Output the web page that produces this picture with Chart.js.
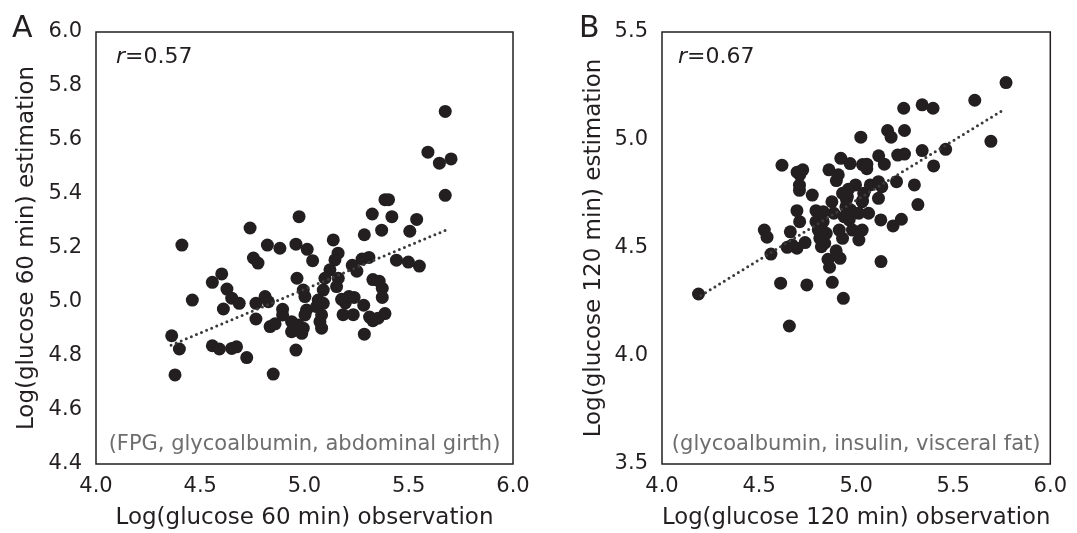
<!DOCTYPE html>
<html lang="en">
<head>
<meta charset="UTF-8">
<title>Log glucose estimation vs observation</title>
<script src="https://cdn.jsdelivr.net/npm/chart.js"></script>
<style>
  body { margin: 0; background: #fff; }
  #wrap { position: relative; width: 1077px; height: 533px; }
  #panelA { position: absolute; left: 0; top: 0; }
  #panelB { position: absolute; left: 540px; top: 0; }
</style>
</head>
<body>
<div id="wrap">
  <canvas id="panelA" width="540" height="533"></canvas>
  <canvas id="panelB" width="537" height="533"></canvas>
</div>
<script>
// Panel A - glucose 60 min (FPG, glycoalbumin, abdominal girth)
const obs60 = [5.675, 5.592, 5.647, 5.703, 5.675, 5.386, 5.403, 5.325, 5.419, 5.538, 5.505, 5.370, 5.287, 5.138,
  4.974, 4.739, 4.412, 4.822, 4.882, 4.959, 5.013, 5.039, 5.161, 5.146, 4.755, 4.777,
  5.309, 5.276, 5.441, 5.498, 5.551, 5.229, 5.251, 5.122, 5.098, 5.162, 5.154, 5.090,
  4.964, 4.603, 4.558, 4.628, 4.651, 4.687, 4.462, 4.611, 4.767, 4.811, 4.827, 4.767, 4.895, 4.895, 4.835, 4.859,
  4.994, 5.002, 5.010, 5.002, 4.938, 4.970, 4.994, 4.938, 4.987,
  5.066, 5.090, 5.058, 5.082, 5.074, 5.082,
  5.178, 5.196, 5.213, 5.238, 5.284, 5.185, 5.234,
  5.287, 5.312, 5.328, 5.353, 5.386, 5.328, 5.358, 5.373, 5.373,
  4.959, 4.850, 4.723, 4.674, 4.651, 4.558, 4.592, 4.400, 4.363, 4.379];
const est60 = [5.706, 5.555, 5.514, 5.530, 5.395, 5.379, 5.379, 5.326, 5.316, 5.306, 5.262, 5.266, 5.249, 5.230,
  5.316, 5.274, 5.211, 5.211, 5.199, 5.214, 5.195, 5.153, 5.181, 5.156, 5.163, 5.144,
  5.165, 5.159, 5.155, 5.148, 5.133, 5.136, 5.114, 5.119, 5.088, 5.088, 5.057, 5.044,
  5.088, 5.104, 5.073, 5.048, 5.014, 4.995, 5.007, 4.974, 4.995, 5.020, 5.001, 4.937, 4.973, 4.952, 4.909, 4.919,
  5.044, 5.020, 4.970, 4.952, 4.927, 4.915, 4.903, 4.890, 4.884,
  5.007, 4.995, 4.983, 4.952, 4.927, 4.903,
  5.010, 4.997, 5.020, 5.017, 4.988, 4.953, 4.953,
  4.881, 4.944, 4.931, 4.940, 4.957, 5.083, 5.077, 5.051, 5.017,
  4.822, 4.733, 4.794, 4.834, 4.828, 4.838, 4.826, 4.826, 4.875, 4.730];
const fit60X = [4.36, 5.69];
const fit60Y = [4.84, 5.27];
const ticks60X = [4.0, 4.5, 5.0, 5.5, 6.0];
const ticks60Y = [4.4, 4.6, 4.8, 5.0, 5.2, 5.4, 5.6, 5.8, 6.0];

// Panel B - glucose 120 min (glycoalbumin, insulin, visceral fat)
const obs120 = [5.772, 5.611, 5.340, 5.396, 5.245, 5.162, 5.180, 5.249, 5.024, 5.694, 5.461, 5.340, 5.249, 5.214, 5.116, 5.145, 5.399, 4.921, 4.969, 5.033, 5.055, 5.055,
  4.618, 4.696, 4.725, 4.710, 4.860, 4.908, 4.898, 4.708, 4.708, 4.774,
  4.997, 5.039, 5.031, 5.073, 5.115, 5.132, 5.115, 5.208, 5.300, 5.318,
  4.875, 4.930, 4.955, 4.947, 4.972, 4.989, 4.938, 4.964, 5.014, 5.064, 4.885,
  4.695, 4.709, 4.793, 4.830, 4.793, 4.830,
  4.805, 4.846, 4.813, 4.838, 4.821, 4.913, 4.930, 4.981, 5.031, 5.014,
  4.661, 4.670, 4.695, 4.737, 4.645, 4.527, 4.541, 4.561,
  4.855, 4.863, 4.897, 4.917, 5.128, 5.127, 5.190, 5.233,
  4.611, 4.746, 4.877, 4.934, 4.188, 4.656,
  4.960, 5.033, 4.950];
const est120 = [5.266, 5.184, 5.163, 5.147, 5.147, 5.044, 5.013, 5.044, 5.013, 4.994, 4.957, 4.951, 4.935, 4.930, 4.927, 4.888, 4.880, 4.915, 4.891, 4.886, 4.888, 4.867,
  4.883, 4.851, 4.862, 4.840, 4.862, 4.839, 4.812, 4.791, 4.767, 4.745,
  4.792, 4.753, 4.714, 4.792, 4.807, 4.784, 4.730, 4.807, 4.792, 4.701,
  4.714, 4.753, 4.738, 4.691, 4.676, 4.661, 4.645, 4.630, 4.661, 4.661, 4.661,
  4.673, 4.622, 4.673, 4.668, 4.622, 4.622,
  4.583, 4.568, 4.545, 4.522, 4.506, 4.583, 4.545, 4.583, 4.583, 4.537,
  4.575, 4.514, 4.499, 4.525, 4.503, 4.583, 4.550, 4.472,
  4.448, 4.411, 4.487, 4.452, 4.437, 4.630, 4.602, 4.633,
  4.337, 4.329, 4.341, 4.267, 4.287, 4.139,
  4.772, 4.720, 4.725];
const fit120X = [4.20, 5.76];
const fit120Y = [4.28, 5.14];
const ticks120X = [4.0, 4.5, 5.0, 5.5, 6.0];
const ticks120Y = [3.5, 4.0, 4.5, 5.0, 5.5];

Chart.defaults.font.family = '"DejaVu Sans", Verdana, sans-serif';
Chart.defaults.color = '#231f20';

// frame, panel letter, r value and predictor note
const panelText = {
  id: 'panelText',
  afterDraw(chart, args, opts) {
    const { ctx, chartArea: a } = chart;
    ctx.save();
    ctx.lineWidth = 1.5;
    ctx.strokeStyle = '#231f20';
    ctx.strokeRect(a.left, a.top, a.right - a.left, a.bottom - a.top);

    ctx.fillStyle = '#231f20';
    ctx.textBaseline = 'alphabetic';
    ctx.font = '30px "DejaVu Sans"';
    ctx.fillText(opts.letter, opts.letterX, 37);

    ctx.textBaseline = 'middle';
    ctx.font = 'italic 22px "DejaVu Sans"';
    const rx = a.left + opts.rOffset;
    ctx.fillText('r', rx, a.top + 25);
    const w = ctx.measureText('r').width;
    ctx.font = '22px "DejaVu Sans"';
    ctx.fillText('=' + opts.r, rx + w, a.top + 25);

    ctx.fillStyle = '#6e6e6e';
    ctx.font = '21px "DejaVu Sans"';
    ctx.textAlign = 'center';
    ctx.fillText(opts.note, (a.left + a.right) / 2, a.bottom - 19);
    ctx.restore();
  }
};

function makePanel(id, xs, ys, fitX, fitY, tickX, tickY, axisW, padRight, titleX, titleY, titlePad, text) {
  const points = xs.map((x, i) => ({ x: x, y: ys[i] }));
  const fit = fitX.map((x, i) => ({ x: x, y: fitY[i] }));
  return new Chart(document.getElementById(id), {
    type: 'scatter',
    data: {
      datasets: [{
        type: 'line',
        data: fit,
        borderColor: '#3a3a3a',
        borderWidth: 3,
        borderDash: [0, 5.5],
        borderCapStyle: 'round',
        pointRadius: 0,
        fill: false
      }, {
        data: points,
        backgroundColor: '#231f20',
        borderWidth: 0,
        pointRadius: 6.5
      }]
    },
    options: {
      responsive: false,
      animation: false,
      events: [],
      layout: { padding: { top: 32, right: padRight, left: 0, bottom: 0 } },
      scales: {
        x: {
          type: 'linear',
          min: tickX[0], max: tickX[tickX.length - 1],
          afterBuildTicks: s => { s.ticks = tickX.map(v => ({ value: v })); },
          afterFit: s => { s.height = 69; },
          grid: { display: false, drawTicks: false },
          border: { display: false },
          ticks: { padding: 10, font: { size: 21 }, callback: v => v.toFixed(1) },
          title: { display: true, text: titleX, font: { size: 23 }, padding: { top: 0, bottom: 1 } }
        },
        y: {
          type: 'linear',
          min: tickY[0], max: tickY[tickY.length - 1],
          afterBuildTicks: s => { s.ticks = tickY.map(v => ({ value: v })); },
          afterFit: s => { s.width = axisW; },
          grid: { display: false, drawTicks: false },
          border: { display: false },
          ticks: { padding: 14, font: { size: 21 }, callback: v => v.toFixed(1) },
          title: { display: true, text: titleY, font: { size: 23 }, padding: { top: titlePad, bottom: 0 } }
        }
      },
      plugins: {
        legend: { display: false },
        tooltip: { enabled: false },
        panelText: text
      }
    },
    plugins: [panelText]
  });
}

makePanel('panelA', obs60, est60, fit60X, fit60Y, ticks60X, ticks60Y, 96, 27,
  'Log(glucose 60 min) observation', 'Log(glucose 60 min) estimation', 13,
  { letter: 'A', letterX: 12, r: '0.57', rOffset: 20, note: '(FPG, glycoalbumin, abdominal girth)' });

makePanel('panelB', obs120, est120, fit120X, fit120Y, ticks120X, ticks120Y, 122, 18,
  'Log(glucose 120 min) observation', 'Log(glucose 120 min) estimation', 40,
  { letter: 'B', letterX: 39, r: '0.67', rOffset: 16, note: '(glycoalbumin, insulin, visceral fat)' });
</script>
</body>
</html>
